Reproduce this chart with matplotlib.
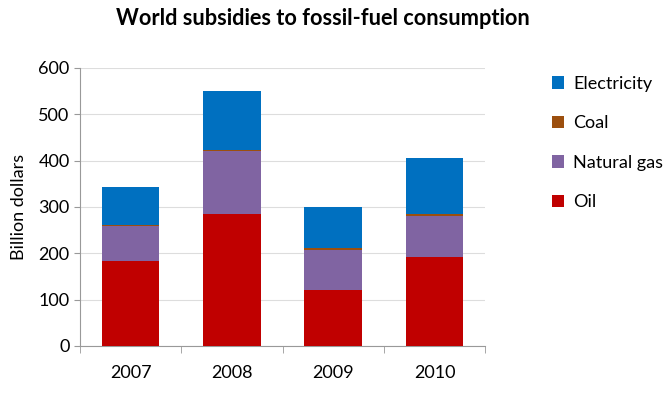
import matplotlib.pyplot as plt
import numpy as np

plt.rcParams['font.family'] = ['Lato', 'DejaVu Sans']

years = ['2007', '2008', '2009', '2010']
oil = [184, 285, 121, 191]
natural_gas = [75, 135, 87, 90]
coal = [1, 3, 3, 4]
electricity = [82, 128, 88, 121]

fig = plt.figure(figsize=(6.72, 3.93), dpi=100)
ax = fig.add_axes([0.119, 0.12, 0.603, 0.707])

x = np.arange(len(years))
w = 0.57
series = [('Oil', oil, '#C00000'),
          ('Natural gas', natural_gas, '#8064A2'),
          ('Coal', coal, '#9C4F0E'),
          ('Electricity', electricity, '#0070C0')]
bottom = np.zeros(len(years))
handles = []
for name, vals, color in series:
    b = ax.bar(x, vals, w, bottom=bottom, color=color, label=name, zorder=3)
    handles.append(b)
    bottom += np.array(vals)

ax.set_xlim(-0.5, len(years) - 0.5)
ax.set_ylim(0, 600)
ax.set_yticks(range(0, 601, 100))
ax.set_xticks(x)
ax.set_xticklabels(years)
ax.set_xticks(np.arange(-0.5, len(years), 1), minor=True)
ax.tick_params(axis='x', which='major', length=0, labelsize=13, pad=14)
ax.tick_params(axis='x', which='minor', length=5, color='#999999')
ax.tick_params(axis='y', length=4, color='#999999', labelsize=13)
ax.grid(axis='y', color='#dddddd', linewidth=0.8, zorder=0)
for s in ['top', 'right']:
    ax.spines[s].set_visible(False)
for s in ['left', 'bottom']:
    ax.spines[s].set_color('#999999')

ax.set_ylabel('Billion dollars', fontsize=13, labelpad=8)
fig.suptitle('World subsidies to fossil-fuel consumption', x=0.48, y=0.98,
             fontsize=15.7, fontweight='bold')

ax.legend(handles[::-1], [s[0] for s in series][::-1], loc='upper left',
          bbox_to_anchor=(1.124, 1.03), frameon=False, fontsize=13,
          handlelength=0.7, handleheight=0.7, labelspacing=1.3, handletextpad=0.5)

fig.savefig('out.png', dpi=100)
